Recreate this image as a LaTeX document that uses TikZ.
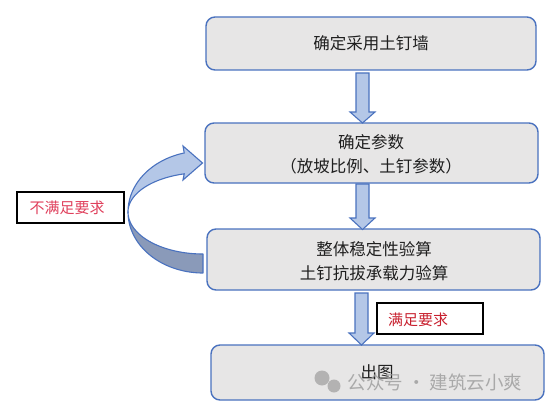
\documentclass[tikz,border=0pt]{standalone}
\usepackage{fontspec}
\newfontfamily\cjk{Noto Sans CJK SC}
\begin{document}
\begin{tikzpicture}[x=1pt,y=-1pt,
  flowbox/.style={draw=boxblue,fill=boxgray,line width=1.4pt,rounded corners=9pt},
  flowtext/.style={font=\cjk\fontsize{16.5}{24}\selectfont,text=black!88,align=center},
  labelbox/.style={draw=black,fill=white,line width=1.2pt},
  arrowshape/.style={draw=boxblue,fill=arrowblue,line width=1.1pt,line join=miter},
]
\definecolor{boxblue}{HTML}{4A72BF}
\definecolor{boxgray}{HTML}{E7E6E6}
\definecolor{arrowblue}{HTML}{B4C7E7}
\definecolor{darkblue}{HTML}{8A9AB9}
\definecolor{redA}{HTML}{E0405C}
\definecolor{redB}{HTML}{C8202E}
\useasboundingbox (0,0) rectangle (557,412);
\fill[white] (0,0) rectangle (557,412);

% boxes
\draw[flowbox] (206,17) rectangle (536,70);
\node[flowtext] (b1) at (371,43.5) {确定采用土钉墙};
\draw[flowbox] (205,123) rectangle (538,183);
\node[flowtext] (b2) at (371,154) {确定参数\\（放坡比例、土钉参数）};
\draw[flowbox] (207,229) rectangle (540,290);
\node[flowtext] (b3) at (374,261) {整体稳定性验算\\土钉抗拔承载力验算};
\draw[flowbox] (211,345) rectangle (544,400);
\node[flowtext] (b4) at (377,372) {出图};

% straight arrows
\draw[arrowshape] (356,73) -- (369,73) -- (369,112) -- (375,112) -- (362.5,123) -- (350,112) -- (356,112) -- cycle;
\draw[arrowshape] (356,184) -- (369,184) -- (369,218) -- (375,218) -- (362.5,229.5) -- (350,218) -- (356,218) -- cycle;
\draw[arrowshape] (355,293) -- (368,293) -- (368,333) -- (374,333) -- (361.5,345) -- (349,333) -- (355,333) -- cycle;

% curved arrow: dark back part
\draw[draw=boxblue,fill=darkblue,line width=1.1pt,line join=round]
  plot[domain=180:90,samples=40,variable=\t] ({203+75*cos(\t)},{212+61*sin(\t)})
  -- (203,254)
  -- plot[domain=90:180,samples=40,variable=\t] ({203+75*cos(\t)},{212+42*sin(\t)})
  -- cycle;
% curved arrow: light front part with head
\draw[draw=boxblue,fill=arrowblue,line width=1.1pt,line join=miter]
  plot[domain=180:255.5,samples=40,variable=\t] ({203+75*cos(\t)},{212+61*sin(\t)})
  -- (183,146) -- (202.5,163) -- (183,180)
  -- plot[domain=255.5:180,samples=40,variable=\t] ({203+75*cos(\t)},{212+39.4*sin(\t)})
  -- cycle;

% labels
\draw[labelbox] (17,192) rectangle (124,223);
\node[font=\cjk\fontsize{15}{18}\selectfont,text=redA] (l1) at (67,208) {不满足要求};
\draw[labelbox] (377,303) rectangle (483,334);
\node[font=\cjk\fontsize{15}{18}\selectfont,text=redB] (l2) at (418,320) {满足要求};

% watermark
\fill[gray!70,opacity=0.8] (322,378) circle (7.5);
\fill[gray!70,opacity=0.8] (334,386) circle (6.5);
\node[font=\cjk\fontsize{18.5}{22}\selectfont,text=gray!75,opacity=0.85,anchor=west] (wm) at (344,382) {公众号 · 建筑云小爽};
\end{tikzpicture}
\end{document}
